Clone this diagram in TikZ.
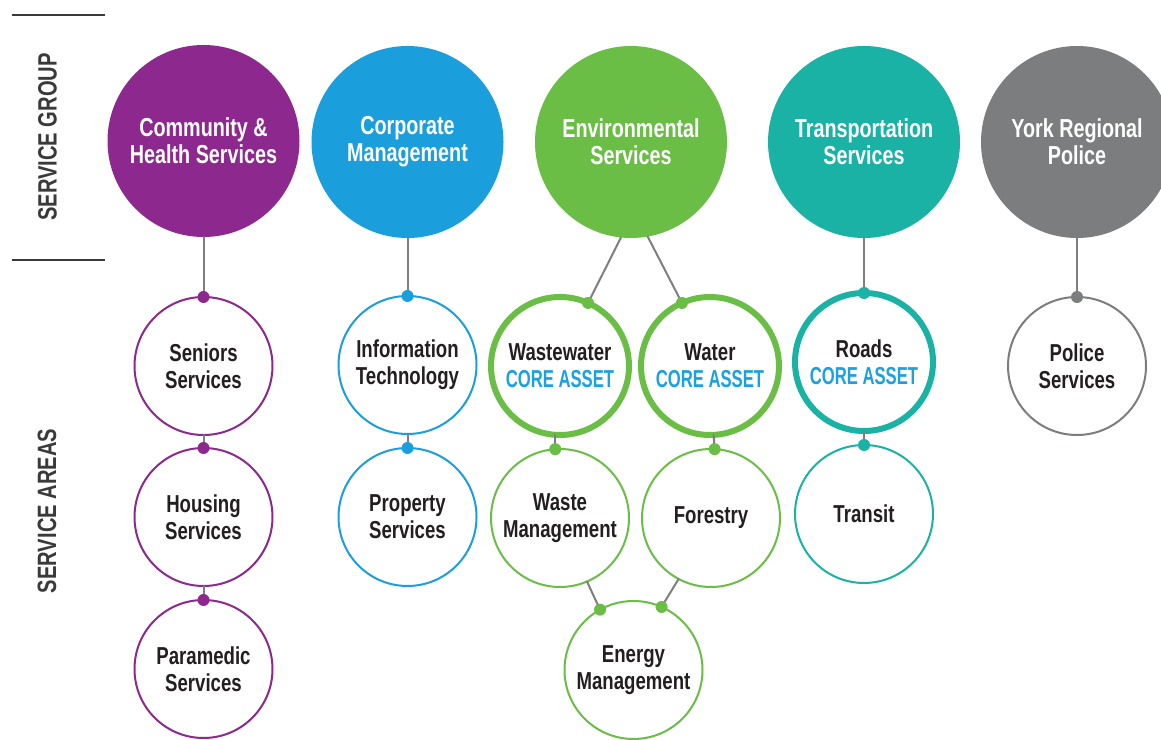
\documentclass[tikz,border=0pt]{standalone}
\usepackage{fontspec}
\setmainfont[FakeStretch=0.76]{Liberation Sans}
\newfontfamily\capfont[FakeStretch=0.68]{Liberation Sans}
\usetikzlibrary{arrows}
\definecolor{chsPurple}{HTML}{8C288E}
\definecolor{corpBlue}{HTML}{1B9FDC}
\definecolor{envGreen}{HTML}{6ABD45}
\definecolor{transTeal}{HTML}{19B2A5}
\definecolor{yrpGray}{HTML}{7B7D7F}
\definecolor{coreBlue}{HTML}{1BA1E0}
\definecolor{linkGray}{HTML}{7F7F7F}
\definecolor{darkText}{HTML}{231F20}
\definecolor{labelGray}{HTML}{3A3A3A}

\begin{document}
\begin{tikzpicture}[line cap=round,line join=round,x=1pt,y=1pt,
  group/.style={circle,minimum size=192pt,inner sep=0pt,outer sep=0pt,align=center,
    text=white,font=\fontsize{26}{27}\selectfont\bfseries},
  area/.style={circle,draw,fill=white,line width=2pt,minimum size=138pt,inner sep=0pt,
    outer sep=0pt,align=center,text=darkText,font=\fontsize{24.5}{27}\selectfont\bfseries},
  core/.style={area,line width=6pt},
  link/.style={draw=linkGray,line width=2pt}]
\useasboundingbox (0,0) rectangle (1161,739);
\fill[white] (0,0) rectangle (1161,739);

% side labels
\draw[labelGray,line width=2.5pt,line cap=butt] (12,724)--(105,724);
\draw[labelGray,line width=2.5pt,line cap=butt] (12,479)--(105,479);
\node[rotate=90,text=labelGray,font=\fontsize{26.5}{28}\selectfont\bfseries] (sgroup) at (47.5,602) {SERVICE GROUP};
\node[rotate=90,text=labelGray,font=\fontsize{26.5}{28}\selectfont\bfseries] (sareas) at (47,228) {SERVICE AREAS};

% service groups
\node[group,fill=chsPurple] (chs) at (203.5,598) {Community \&\\Health Services};
\node[group,fill=corpBlue] (corp) at (407.5,597) {Corporate\\Management};
\node[group,fill=envGreen] (env) at (631,597) {Environmental\\Services};
\node[group,fill=transTeal] (trans) at (864,597) {Transportation\\Services};
\node[group,fill=yrpGray] (yrp) at (1077,597) {York Regional\\Police};

% service areas
\node[area,draw=chsPurple] (sen) at (203.5,373) {Seniors\\Services};
\node[area,draw=chsPurple] (hou) at (203.5,222) {Housing\\Services};
\node[area,draw=chsPurple] (par) at (203.5,70) {Paramedic\\Services};
\node[area,draw=corpBlue] (it) at (407.5,374) {Information\\Technology};
\node[area,draw=corpBlue] (prop) at (407.5,222) {Property\\Services};
\node[core,draw=envGreen] (ww) at (560,373) {Wastewater\\{\capfont\color{coreBlue}CORE ASSET}};
\node[core,draw=envGreen] (wat) at (710,373) {Water\\{\capfont\color{coreBlue}CORE ASSET}};
\node[area,draw=envGreen] (wm) at (560,221) {Waste\\Management};
\node[area,draw=envGreen] (fore) at (711,221) {Forestry};
\node[area,draw=envGreen] (en) at (633.5,69) {Energy\\Management};
\node[core,draw=transTeal] (rd) at (864,377) {Roads\\{\capfont\color{coreBlue}CORE ASSET}};
\node[area,draw=transTeal] (tr) at (864,225) {Transit};
\node[area,draw=yrpGray] (pol) at (1077,373) {Police\\Services};

% connectors
\draw[link] (chs.south)--(sen.north);
\draw[link] (sen.south)--(hou.north);
\draw[link] (hou.south)--(par.north);
\draw[link] (corp.south)--(it.north);
\draw[link] (it.south)--(prop.north);
\draw[link] (env.-96)--(ww.66);
\draw[link] (env.-80)--(wat.114);
\draw[link] (ww.-94)--(wm.94);
\draw[link] (wat.-87)--(fore.87);
\draw[link] (wm.-67)--(en.119);
\draw[link] (fore.-118)--(en.66);
\draw[link] (trans.south)--(rd.north);
\draw[link] (rd.south)--(tr.north);
\draw[link] (yrp.south)--(pol.north);

% dots
\fill[chsPurple] (sen.north) circle (6);
\fill[chsPurple] (hou.north) circle (6);
\fill[chsPurple] (par.north) circle (6);
\fill[corpBlue] (it.north) circle (6);
\fill[corpBlue] (prop.north) circle (6);
\fill[envGreen] (ww.66) circle (6);
\fill[envGreen] (wat.114) circle (6);
\fill[envGreen] (wm.94) circle (6);
\fill[envGreen] (fore.87) circle (6);
\fill[envGreen] (en.119) circle (6);
\fill[envGreen] (en.66) circle (6);
\fill[transTeal] (rd.north) circle (6);
\fill[transTeal] (tr.north) circle (6);
\fill[yrpGray] (pol.north) circle (6);
\end{tikzpicture}
\end{document}
